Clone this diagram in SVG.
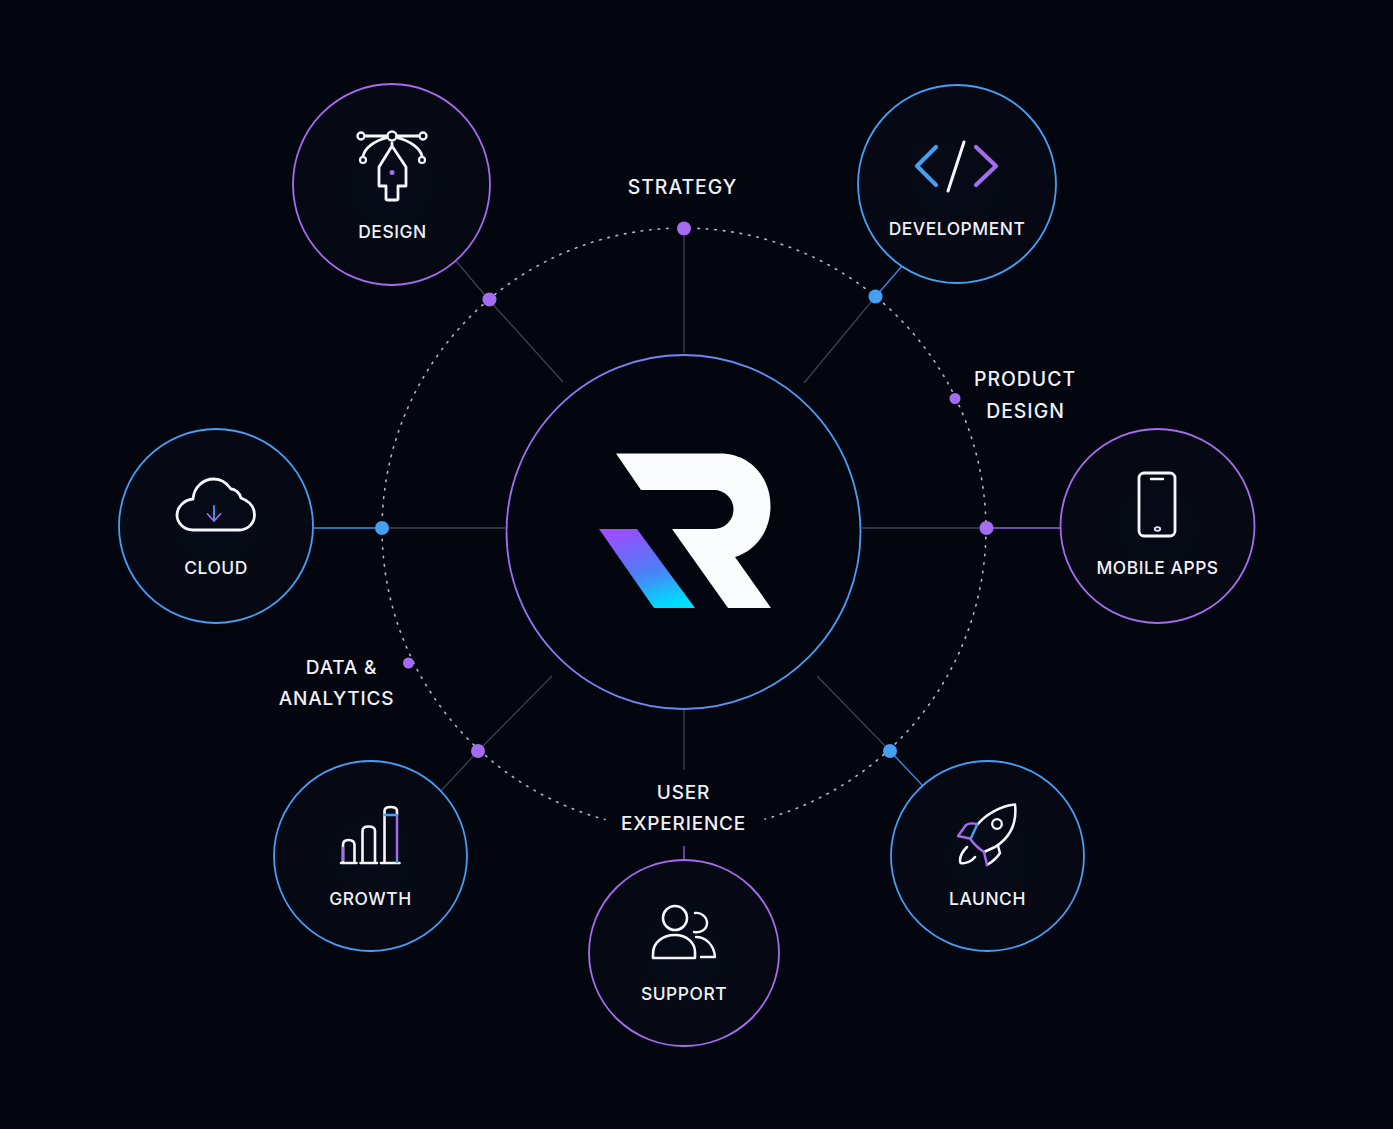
<svg xmlns="http://www.w3.org/2000/svg" width="1393" height="1129" viewBox="0 0 1393 1129">
<defs>
<linearGradient id="logoG" x1="0.25" y1="0" x2="0.6" y2="1"><stop offset="0" stop-color="#9b4dff"/><stop offset="0.55" stop-color="#4f7cf5"/><stop offset="1" stop-color="#00dcff"/></linearGradient>
<linearGradient id="ringG" x1="0" y1="0" x2="1" y2="0.15"><stop offset="0" stop-color="#a06bf0"/><stop offset="1" stop-color="#42a0f8"/></linearGradient>
<radialGradient id="nodeF"><stop offset="0" stop-color="#070b17"/><stop offset="1" stop-color="#060913"/></radialGradient>
</defs>
<style>
text{font-family:"Inter","Liberation Sans",sans-serif;fill:#f0f2f7;text-anchor:middle;font-size:17.4px;font-weight:500;letter-spacing:.55px}
.big{font-size:19.4px;letter-spacing:1px}
.mid{font-size:19px;letter-spacing:.8px}
.p{fill:url(#nodeF);stroke:#a66cf0;stroke-width:1.8}
.b{fill:url(#nodeF);stroke:#459ff5;stroke-width:1.8}
.i{fill:none;stroke:#f6f7fb;stroke-linecap:round;stroke-linejoin:round}
.ip{fill:none;stroke:#a66cf0;stroke-linecap:round;stroke-linejoin:round}
.ib{fill:none;stroke:#459ff5;stroke-linecap:round;stroke-linejoin:round}
.l{stroke:#3d414f;stroke-width:1.3;fill:none}
.dp{fill:#a56bf0}.db{fill:#459ff5}
.ring{fill:none;stroke:#b4bac8;stroke-width:1.6;stroke-dasharray:1.5 7;stroke-linecap:round}
</style>
<rect width="1393" height="1129" fill="#03050f"/>
<g id="connectors">
<path class="ring" d="M668 228.400A302 302 0 0 0 382 528A302 302 0 0 0 605 819.500"/>
<path class="ring" d="M698 228.400A302 302 0 0 1 986 528A302 302 0 0 1 765 819"/>
<path class="l" d="M684 236V353M489 300L563 382M456 261L489 300M876 296L804 383M382 528H505M862 528H986M478 751L552 676M890 751L817 676M684 710V770M441 791L478 751"/>
<path d="M902 266L876 296M314 528H382M890 751L923 786" fill="none" stroke="#3f8ee0" stroke-width="1.3"/>
<path d="M986 528H1061M684 846V859" fill="none" stroke="#8f63d6" stroke-width="1.3"/>
<circle class="dp" cx="684" cy="228.500" r="7"/><circle class="dp" cx="489.500" cy="299.500" r="7"/><circle class="db" cx="875.500" cy="296.500" r="7"/><circle class="db" cx="382" cy="528" r="7"/><circle class="dp" cx="986.500" cy="528" r="7"/><circle class="dp" cx="478" cy="751" r="7"/><circle class="db" cx="890" cy="751" r="7"/><circle class="dp" cx="955" cy="398.500" r="5.500"/><circle class="dp" cx="408.500" cy="663" r="5.500"/>
</g>
<g id="center">
<ellipse cx="683.500" cy="532" rx="177" ry="177" fill="#04060f" stroke="url(#ringG)" stroke-width="1.800"/>
<path d="M616 453.500H720C750 453.500 770.500 477 770.500 506C770.500 532 755 551 735 557L771 608H728L672 529H714A19.500 19.500 0 0 0 714 490H641Z" fill="#fbfcfd"/>
<path d="M599 529H637L695 608H654Z" fill="url(#logoG)"/>
</g>
<g id="design">
<ellipse class="p" cx="391.500" cy="184.500" rx="98.500" ry="100.500"/>
<path class="i" stroke-width="2.800" d="M366 136H387M397 136H418M386 138C374 141 365 148 363 156M398 138C410 141 420 148 422 156M392 143V146L379 167V186H386V199Q386 200 388 200H396Q398 200 398 199V186H406V167L392 146Z"/>
<circle class="i" stroke-width="2.400" cx="361" cy="136" r="3.500"/><circle class="i" stroke-width="2.400" cx="392" cy="136" r="4.500"/><circle class="i" stroke-width="2.400" cx="423" cy="136" r="3.500"/><circle class="i" stroke-width="2.200" cx="363" cy="160" r="3"/><circle class="i" stroke-width="2.200" cx="422" cy="160" r="3"/>
<circle class="dp" cx="392" cy="172.500" r="2.500"/>
<text x="392.500" y="237.500">DESIGN</text>
</g>
<g id="development">
<circle class="b" cx="957" cy="184" r="99"/>
<path class="ib" stroke-width="4.200" d="M936 147L917 166L936 185"/>
<path class="i" stroke-width="3" d="M964 142L948 191"/>
<path class="ip" stroke-width="4.200" d="M976 147L996 166L976 185"/>
<text x="957" y="235">DEVELOPMENT</text>
</g>
<g id="cloud">
<circle class="b" cx="216" cy="526" r="97"/>
<path class="i" stroke-width="2.800" d="M193 530H239C249 530 254.500 522 254.500 515C254.500 507 249 501 241 498C240 493 235 489 231 489C226 482 220 479 214 479C203 479 194 487 193 499C184 500 177 507 177 515C177 523 184 530 193 530Z"/>
<path class="ib" stroke-width="1.800" d="M214 506V520"/><path class="ip" stroke-width="1.800" d="M207.500 514L214 521L220.500 514"/>
<text x="216" y="573.500">CLOUD</text>
</g>
<g id="mobile-apps">
<circle class="p" cx="1157.500" cy="526" r="97"/>
<rect class="i" stroke-width="2.800" x="1139" y="473" width="36" height="63" rx="5"/>
<path class="i" stroke-width="2.400" d="M1151 479H1163"/>
<ellipse cx="1157.500" cy="529" rx="2.700" ry="1.800" fill="#1a1530" stroke="#e8e2fb" stroke-width="1.800"/>
<text x="1157.500" y="573.500">MOBILE APPS</text>
</g>
<g id="growth">
<ellipse class="b" cx="370.500" cy="856" rx="96.500" ry="95"/>
<path class="i" stroke-width="2.600" d="M341 863H356.500M360.500 863H377M381 863H399.500M343 862V845Q343 840 348.500 840Q354.500 840 354.500 845V862M362.500 862V831Q362.500 826.500 368.500 826.500Q375 826.500 375 831V862M384.500 862V811Q384.500 807 390.500 807Q397 807 397 811V815"/>
<path class="ib" stroke-width="2.400" d="M384.500 815H397M397 859V862"/><path class="ip" stroke-width="2.400" d="M397 816V858M343 848V860"/>
<text x="370.500" y="904.500">GROWTH</text>
</g>
<g id="launch">
<ellipse class="b" cx="987.500" cy="856" rx="96.500" ry="95"/>
<path class="i" stroke-width="2.500" d="M977 825C985 815 1000 806 1015 804.500C1017 822 1011 837 995 847L984 852M998 846L1000 853C997 858 992 862 987 865M967 847C962 852 959 858 960.500 863C966 864 972 861 975 857"/>
<circle class="i" stroke-width="2.300" cx="997" cy="824" r="4.800"/>
<path class="ip" stroke-width="2.400" d="M977 824C973 823 969 823 966 825L958 836L970 838.500C973 843 978 848 984 852L987 865"/>
<path class="ib" stroke-width="2.400" d="M977 825L971 838"/>
<text x="987.500" y="904.500">LAUNCH</text>
</g>
<g id="support">
<ellipse class="p" cx="684" cy="953" rx="95" ry="93"/>
<circle class="i" stroke-width="2.600" cx="675" cy="918" r="12"/>
<path class="i" stroke-width="2.600" d="M653 958V954C653 942 663 935 675 935C687 935 695 943 695 952V958Z"/>
<path class="i" stroke-width="2.400" d="M695 913C701 912 707 917 707 923C707 930 700 933 694 932"/>
<path class="i" stroke-width="2.400" d="M696 937C706 937 714 945 715 957H701"/>
<text x="684" y="999.500">SUPPORT</text>
</g>
<g id="labels">
<text class="big" x="682.500" y="194">STRATEGY</text>
<text class="big" x="1025" y="386">PRODUCT</text><text class="big" x="1025.500" y="418">DESIGN</text>
<text class="mid" x="341.500" y="674">DATA &amp;</text><text class="mid" x="336.500" y="705">ANALYTICS</text>
<text class="mid" x="683.500" y="799">USER</text><text class="mid" x="683.500" y="830">EXPERIENCE</text>
</g>
</svg>
